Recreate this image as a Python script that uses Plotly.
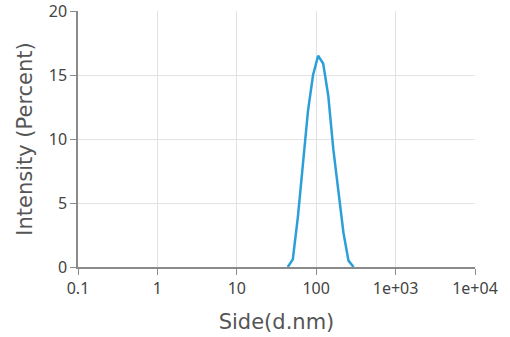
import plotly.graph_objects as go

sizes = [43.82, 50.75, 58.77, 68.06, 78.82, 91.28, 105.7, 122.4, 141.8, 164.2, 190.1, 220.2, 255.0, 295.3]
intensity = [0, 0.6, 3.9, 8.3, 12.2, 15.0, 16.5, 15.9, 13.4, 9.2, 5.8, 2.7, 0.5, 0]

x_tickvals = [0.1, 1, 10, 100, 1000, 10000]
x_ticktext = ["0.1", "1", "10", "100", "1e+03", "1e+04"]
y_tickvals = [0, 5, 10, 15, 20]

fig = go.Figure()
fig.add_trace(go.Scatter(
    x=sizes, y=intensity, mode="lines",
    line=dict(color="#2b9fd8", width=2.5),
    showlegend=False,
))

font_family = "Noto Sans, Open Sans, sans-serif"
title_family = "DejaVu Sans, Noto Sans, sans-serif"
fig.update_layout(
    width=510, height=337,
    margin=dict(l=78, r=35, t=11, b=70),
    paper_bgcolor="white", plot_bgcolor="white",
    font=dict(family=font_family, color="#444"),
)
fig.update_xaxes(
    type="log", range=[-1, 4],
    tickvals=x_tickvals, ticktext=x_ticktext,
    showline=True, linecolor="#8a8a8a", linewidth=1.5,
    ticks="outside", ticklen=6, tickcolor="#8a8a8a",
    showgrid=True, gridcolor="#e2e2e2", gridwidth=1,
    tickfont=dict(size=16, color="#444"),
    ticklabeloverflow="allow",
    title=dict(text="Side(d.nm)", font=dict(size=21, family=title_family, color="#555"), standoff=16),
    zeroline=False, automargin=False,
)
fig.update_yaxes(
    range=[0, 20],
    tickvals=y_tickvals,
    showline=True, linecolor="#8a8a8a", linewidth=1.5,
    ticks="outside", ticklen=6, tickcolor="#8a8a8a",
    showgrid=True, gridcolor="#e2e2e2", gridwidth=1,
    tickfont=dict(size=16, color="#444"),
    ticklabeloverflow="allow",
    title=dict(text="Intensity (Percent)", font=dict(size=21, family=title_family, color="#555"), standoff=10),
    zeroline=False, automargin=False,
)
fig.write_html("out.html", config={"displayModeBar": False},
               post_script="document.body.style.margin='0px';")
